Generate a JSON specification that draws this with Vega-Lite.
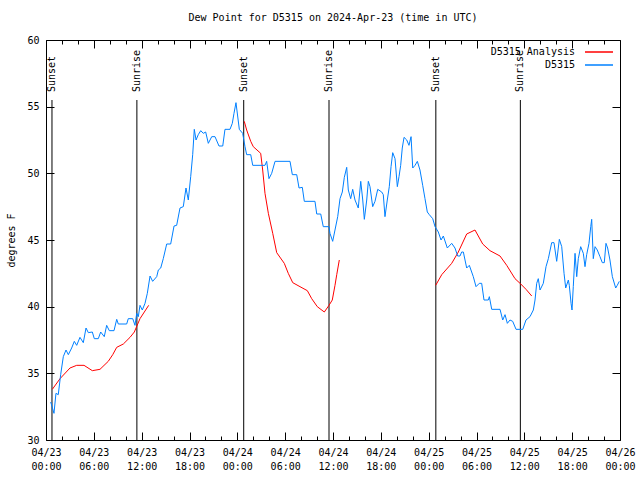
{
  "$schema": "https://vega.github.io/schema/vega-lite/v6.json",
  "autosize": "none",
  "width": 574,
  "height": 400,
  "padding": {"left": 46, "top": 40, "right": 20, "bottom": 40},
  "background": "white",
  "config": {
    "font": "DejaVu Sans Mono",
    "view": {"stroke": "black", "strokeWidth": 1},
    "axis": {"labelFont": "DejaVu Sans Mono", "titleFont": "DejaVu Sans Mono", "labelFontSize": 10, "titleFontSize": 10, "titleFontWeight": "normal", "labelColor": "black", "titleColor": "black", "domainColor": "black", "tickColor": "black", "grid": false, "labelFlush": false, "labelOverlap": false, "labelBound": false},
    "legend": {"labelFont": "DejaVu Sans Mono", "labelFontSize": 10, "labelColor": "black"}
  },
  "title": {"text": "Dew Point for D5315 on 2024-Apr-23 (time in UTC)", "font": "DejaVu Sans Mono", "fontSize": 10, "fontWeight": "normal", "color": "black", "offset": 12, "anchor": "middle"},
  "datasets": {
    "obs": [
      {"hour": 0.59, "dp": 32.85}, {"hour": 1.0, "dp": 32.0}, {"hour": 1.25, "dp": 33.5}, {"hour": 1.54, "dp": 33.4},
      {"hour": 1.84, "dp": 34.9}, {"hour": 2.17, "dp": 36.25}, {"hour": 2.51, "dp": 36.75}, {"hour": 2.8, "dp": 36.4},
      {"hour": 3.22, "dp": 36.9}, {"hour": 3.55, "dp": 37.4}, {"hour": 3.85, "dp": 37.1}, {"hour": 4.26, "dp": 37.7},
      {"hour": 4.68, "dp": 37.3}, {"hour": 5.02, "dp": 38.4}, {"hour": 5.31, "dp": 38.05}, {"hour": 5.81, "dp": 38.1},
      {"hour": 6.06, "dp": 37.6}, {"hour": 6.56, "dp": 37.6}, {"hour": 6.86, "dp": 38.1}, {"hour": 7.31, "dp": 37.75},
      {"hour": 7.61, "dp": 38.6}, {"hour": 7.94, "dp": 38.2}, {"hour": 8.53, "dp": 38.2}, {"hour": 8.87, "dp": 39.05},
      {"hour": 9.07, "dp": 38.7}, {"hour": 10.12, "dp": 38.7}, {"hour": 10.32, "dp": 39.1}, {"hour": 10.88, "dp": 39.1},
      {"hour": 11.16, "dp": 38.6}, {"hour": 11.38, "dp": 39.5}, {"hour": 11.58, "dp": 39.25}, {"hour": 11.79, "dp": 40.1},
      {"hour": 12.08, "dp": 39.75}, {"hour": 12.42, "dp": 40.25}, {"hour": 12.71, "dp": 41.0}, {"hour": 13.05, "dp": 42.3},
      {"hour": 13.38, "dp": 41.9}, {"hour": 13.89, "dp": 42.25}, {"hour": 14.09, "dp": 42.75}, {"hour": 14.39, "dp": 42.9},
      {"hour": 14.71, "dp": 43.6}, {"hour": 15.14, "dp": 44.7}, {"hour": 15.64, "dp": 44.7}, {"hour": 16.06, "dp": 46.05},
      {"hour": 16.39, "dp": 46.1}, {"hour": 16.81, "dp": 47.4}, {"hour": 17.22, "dp": 47.5}, {"hour": 17.56, "dp": 48.9},
      {"hour": 17.85, "dp": 48.0}, {"hour": 18.15, "dp": 49.75}, {"hour": 18.4, "dp": 51.4}, {"hour": 18.6, "dp": 53.3},
      {"hour": 18.82, "dp": 52.5}, {"hour": 19.1, "dp": 52.9}, {"hour": 19.41, "dp": 53.2}, {"hour": 19.73, "dp": 53.0},
      {"hour": 20.03, "dp": 53.1}, {"hour": 20.36, "dp": 52.25}, {"hour": 20.79, "dp": 52.75}, {"hour": 21.2, "dp": 52.75},
      {"hour": 21.7, "dp": 52.05}, {"hour": 22.17, "dp": 52.05}, {"hour": 22.45, "dp": 53.3}, {"hour": 23.08, "dp": 53.3},
      {"hour": 23.37, "dp": 53.75}, {"hour": 23.58, "dp": 54.5}, {"hour": 23.83, "dp": 55.3}, {"hour": 24.25, "dp": 53.3},
      {"hour": 24.67, "dp": 53.0}, {"hour": 24.96, "dp": 52.0}, {"hour": 25.17, "dp": 51.4}, {"hour": 25.68, "dp": 51.4},
      {"hour": 25.93, "dp": 50.6}, {"hour": 27.47, "dp": 50.6}, {"hour": 27.68, "dp": 50.9}, {"hour": 27.97, "dp": 49.6},
      {"hour": 28.31, "dp": 50.0}, {"hour": 28.73, "dp": 50.9}, {"hour": 30.61, "dp": 50.9}, {"hour": 30.9, "dp": 49.9},
      {"hour": 31.45, "dp": 49.9}, {"hour": 31.74, "dp": 48.9}, {"hour": 32.15, "dp": 48.95}, {"hour": 32.4, "dp": 47.9},
      {"hour": 33.74, "dp": 47.9}, {"hour": 33.96, "dp": 46.95}, {"hour": 34.46, "dp": 46.95}, {"hour": 34.78, "dp": 46.0},
      {"hour": 35.5, "dp": 46.0}, {"hour": 35.62, "dp": 45.5}, {"hour": 35.96, "dp": 44.9}, {"hour": 36.25, "dp": 45.75},
      {"hour": 36.59, "dp": 46.75}, {"hour": 36.88, "dp": 48.1}, {"hour": 37.17, "dp": 48.6}, {"hour": 37.42, "dp": 49.7},
      {"hour": 37.72, "dp": 50.45}, {"hour": 37.92, "dp": 48.75}, {"hour": 38.22, "dp": 48.1}, {"hour": 38.47, "dp": 48.8},
      {"hour": 38.76, "dp": 48.0}, {"hour": 39.17, "dp": 47.4}, {"hour": 39.48, "dp": 49.4}, {"hour": 39.73, "dp": 48.0},
      {"hour": 39.93, "dp": 46.55}, {"hour": 40.23, "dp": 48.0}, {"hour": 40.43, "dp": 49.4}, {"hour": 40.64, "dp": 49.0},
      {"hour": 40.98, "dp": 47.5}, {"hour": 41.27, "dp": 47.9}, {"hour": 41.61, "dp": 48.8}, {"hour": 42.11, "dp": 48.6},
      {"hour": 42.31, "dp": 48.4}, {"hour": 42.52, "dp": 46.75}, {"hour": 42.81, "dp": 48.0}, {"hour": 43.06, "dp": 49.0},
      {"hour": 43.28, "dp": 50.5}, {"hour": 43.49, "dp": 51.55}, {"hour": 43.78, "dp": 51.1}, {"hour": 44.07, "dp": 49.0},
      {"hour": 44.28, "dp": 49.75}, {"hour": 44.49, "dp": 50.6}, {"hour": 44.69, "dp": 51.9}, {"hour": 44.91, "dp": 52.7},
      {"hour": 45.25, "dp": 52.5}, {"hour": 45.53, "dp": 52.1}, {"hour": 45.79, "dp": 52.75}, {"hour": 46.0, "dp": 50.4},
      {"hour": 46.29, "dp": 50.6}, {"hour": 46.58, "dp": 50.9}, {"hour": 46.91, "dp": 50.25}, {"hour": 47.25, "dp": 49.1},
      {"hour": 47.54, "dp": 48.1}, {"hour": 47.83, "dp": 47.1}, {"hour": 48.08, "dp": 46.9}, {"hour": 48.51, "dp": 46.6},
      {"hour": 48.8, "dp": 46.0}, {"hour": 49.21, "dp": 45.6}, {"hour": 49.55, "dp": 45.0}, {"hour": 49.84, "dp": 45.3},
      {"hour": 50.34, "dp": 44.4}, {"hour": 50.89, "dp": 44.75}, {"hour": 51.3, "dp": 44.4}, {"hour": 51.64, "dp": 43.8},
      {"hour": 51.93, "dp": 43.8}, {"hour": 52.14, "dp": 44.1}, {"hour": 52.35, "dp": 44.1}, {"hour": 52.77, "dp": 42.9},
      {"hour": 53.1, "dp": 43.1}, {"hour": 53.6, "dp": 42.25}, {"hour": 53.94, "dp": 41.5}, {"hour": 54.35, "dp": 41.75},
      {"hour": 54.65, "dp": 41.75}, {"hour": 54.94, "dp": 40.5}, {"hour": 55.48, "dp": 40.5}, {"hour": 55.61, "dp": 40.75},
      {"hour": 55.91, "dp": 39.8}, {"hour": 56.95, "dp": 39.8}, {"hour": 57.29, "dp": 39.0}, {"hour": 57.58, "dp": 39.4},
      {"hour": 57.87, "dp": 38.75}, {"hour": 58.2, "dp": 39.0}, {"hour": 58.54, "dp": 38.9}, {"hour": 58.96, "dp": 38.3},
      {"hour": 59.8, "dp": 38.3}, {"hour": 60.21, "dp": 39.0}, {"hour": 60.71, "dp": 39.25}, {"hour": 61.13, "dp": 39.75},
      {"hour": 61.34, "dp": 40.5}, {"hour": 61.55, "dp": 41.75}, {"hour": 61.75, "dp": 42.1}, {"hour": 61.97, "dp": 41.25},
      {"hour": 62.38, "dp": 41.75}, {"hour": 62.72, "dp": 43.0}, {"hour": 63.01, "dp": 43.6}, {"hour": 63.43, "dp": 44.8},
      {"hour": 63.72, "dp": 44.8}, {"hour": 64.06, "dp": 43.4}, {"hour": 64.39, "dp": 45.05}, {"hour": 64.69, "dp": 44.5},
      {"hour": 64.98, "dp": 42.5}, {"hour": 65.19, "dp": 41.4}, {"hour": 65.52, "dp": 42.0}, {"hour": 65.64, "dp": 41.6},
      {"hour": 65.86, "dp": 40.25}, {"hour": 65.98, "dp": 39.75}, {"hour": 66.14, "dp": 41.5}, {"hour": 66.36, "dp": 44.0},
      {"hour": 66.57, "dp": 42.25}, {"hour": 66.77, "dp": 43.6}, {"hour": 67.07, "dp": 44.5}, {"hour": 67.4, "dp": 44.0},
      {"hour": 67.61, "dp": 43.0}, {"hour": 67.82, "dp": 43.9}, {"hour": 68.11, "dp": 44.75}, {"hour": 68.33, "dp": 46.0},
      {"hour": 68.45, "dp": 46.55}, {"hour": 68.65, "dp": 43.6}, {"hour": 68.87, "dp": 44.5}, {"hour": 69.15, "dp": 44.25},
      {"hour": 69.49, "dp": 43.75}, {"hour": 69.78, "dp": 43.3}, {"hour": 70.03, "dp": 43.3}, {"hour": 70.24, "dp": 44.75},
      {"hour": 70.45, "dp": 44.4}, {"hour": 70.74, "dp": 43.5}, {"hour": 71.04, "dp": 42.25}, {"hour": 71.46, "dp": 41.4},
      {"hour": 71.66, "dp": 41.6}, {"hour": 71.91, "dp": 41.9}
    ],
    "ana": [
      {"hour": 0.79, "dp": 33.8, "seg": 1}, {"hour": 1.76, "dp": 34.6, "seg": 1}, {"hour": 3.01, "dp": 35.4, "seg": 1},
      {"hour": 3.85, "dp": 35.6, "seg": 1}, {"hour": 4.77, "dp": 35.6, "seg": 1}, {"hour": 5.81, "dp": 35.2, "seg": 1},
      {"hour": 6.77, "dp": 35.3, "seg": 1}, {"hour": 7.81, "dp": 35.9, "seg": 1}, {"hour": 8.37, "dp": 36.4, "seg": 1},
      {"hour": 8.87, "dp": 36.95, "seg": 1}, {"hour": 9.7, "dp": 37.2, "seg": 1}, {"hour": 10.54, "dp": 37.7, "seg": 1},
      {"hour": 11.08, "dp": 38.1, "seg": 1}, {"hour": 11.79, "dp": 39.1, "seg": 1}, {"hour": 12.88, "dp": 40.1, "seg": 1},
      {"hour": 24.87, "dp": 53.9, "seg": 2}, {"hour": 25.17, "dp": 53.25, "seg": 2}, {"hour": 25.68, "dp": 52.4, "seg": 2},
      {"hour": 26.0, "dp": 52.0, "seg": 2}, {"hour": 26.93, "dp": 51.5, "seg": 2}, {"hour": 27.18, "dp": 50.25, "seg": 2},
      {"hour": 27.47, "dp": 48.5, "seg": 2}, {"hour": 27.89, "dp": 47.0, "seg": 2}, {"hour": 28.44, "dp": 45.5, "seg": 2},
      {"hour": 28.94, "dp": 44.05, "seg": 2}, {"hour": 29.89, "dp": 43.25, "seg": 2}, {"hour": 30.39, "dp": 42.5, "seg": 2},
      {"hour": 30.95, "dp": 41.8, "seg": 2}, {"hour": 31.86, "dp": 41.5, "seg": 2}, {"hour": 32.78, "dp": 41.2, "seg": 2},
      {"hour": 33.33, "dp": 40.6, "seg": 2}, {"hour": 34.03, "dp": 40.0, "seg": 2}, {"hour": 34.91, "dp": 39.6, "seg": 2},
      {"hour": 35.5, "dp": 40.1, "seg": 2}, {"hour": 35.91, "dp": 40.5, "seg": 2}, {"hour": 36.25, "dp": 41.6, "seg": 2},
      {"hour": 36.47, "dp": 42.4, "seg": 2}, {"hour": 36.79, "dp": 43.5, "seg": 2},
      {"hour": 48.88, "dp": 41.6, "seg": 3}, {"hour": 49.64, "dp": 42.4, "seg": 3}, {"hour": 50.89, "dp": 43.25, "seg": 3},
      {"hour": 51.72, "dp": 44.1, "seg": 3}, {"hour": 52.77, "dp": 45.45, "seg": 3}, {"hour": 53.81, "dp": 45.75, "seg": 3},
      {"hour": 54.78, "dp": 44.7, "seg": 3}, {"hour": 55.69, "dp": 44.2, "seg": 3}, {"hour": 56.95, "dp": 43.8, "seg": 3},
      {"hour": 57.79, "dp": 43.1, "seg": 3}, {"hour": 58.83, "dp": 42.1, "seg": 3}, {"hour": 59.55, "dp": 41.7, "seg": 3},
      {"hour": 60.21, "dp": 41.3, "seg": 3}, {"hour": 60.93, "dp": 40.8, "seg": 3}
    ],
    "sun": [
      {"hour": 0.75, "label": "Sunset"}, {"hour": 11.4, "label": "Sunrise"},
      {"hour": 24.8, "label": "Sunset"}, {"hour": 35.5, "label": "Sunrise"},
      {"hour": 48.9, "label": "Sunset"}, {"hour": 59.5, "label": "Sunrise"}
    ]
  },
  "resolve": {"axis": {"x": "independent", "y": "independent"}},
  "layer": [
    {
      "data": {"name": "sun"},
      "mark": {"type": "rule", "color": "black", "strokeWidth": 1},
      "encoding": {
        "x": {"field": "hour", "type": "quantitative", "scale": {"domain": [0, 72], "nice": false, "zero": false},
              "axis": {"orient": "top", "values": [0, 6, 12, 18, 24, 30, 36, 42, 48, 54, 60, 66, 72], "labels": false, "tickSize": -8, "domain": false, "title": null}},
        "y": {"datum": 55.5, "type": "quantitative", "scale": {"domain": [30, 60], "nice": false, "zero": false},
              "axis": {"orient": "right", "values": [30, 35, 40, 45, 50, 55, 60], "labels": false, "tickSize": -8, "domain": false, "title": null}},
        "y2": {"datum": 30}
      }
    },
    {
      "data": {"name": "sun"},
      "mark": {"type": "text", "angle": -90, "align": "left", "baseline": "middle", "fontSize": 10, "font": "DejaVu Sans Mono", "color": "black"},
      "encoding": {
        "x": {"field": "hour", "type": "quantitative",
              "axis": {"orient": "top", "values": [2, 4, 8, 10, 14, 16, 20, 22, 26, 28, 32, 34, 38, 40, 44, 46, 50, 52, 56, 58, 62, 64, 68, 70], "labels": false, "tickSize": -4, "domain": false, "title": null}},
        "y": {"datum": 56.1, "type": "quantitative", "axis": null},
        "text": {"field": "label"}
      }
    },
    {
      "data": {"name": "ana"},
      "mark": {"type": "line", "strokeWidth": 1, "interpolate": "linear"},
      "encoding": {
        "x": {"field": "hour", "type": "quantitative",
              "axis": {"orient": "bottom", "values": [2, 4, 8, 10, 14, 16, 20, 22, 26, 28, 32, 34, 38, 40, 44, 46, 50, 52, 56, 58, 62, 64, 68, 70], "labels": false, "tickSize": -4, "domain": false, "title": null}},
        "y": {"field": "dp", "type": "quantitative", "axis": null},
        "detail": {"field": "seg"},
        "order": {"field": "hour"},
        "color": {"datum": "D5315 Analysis", "type": "nominal",
                  "scale": {"domain": ["D5315 Analysis", "D5315"], "range": ["#ff0000", "#0080ff"]},
                  "legend": {"title": null, "orient": "top-right", "offset": 4, "symbolType": "M-2,0H2", "symbolSize": 196, "symbolStrokeWidth": 1.5, "rowPadding": 0, "labelFontSize": 10, "labelAlign": "right", "labelOffset": -32, "padding": 0}}
      }
    },
    {
      "data": {"name": "obs"},
      "mark": {"type": "line", "strokeWidth": 1, "interpolate": "linear"},
      "encoding": {
        "x": {"field": "hour", "type": "quantitative",
              "axis": {"orient": "bottom", "values": [0, 6, 12, 18, 24, 30, 36, 42, 48, 54, 60, 66, 72], "tickSize": -8, "labelPadding": 15, "labelLineHeight": 14, "labelBaseline": "top",
                       "labelExpr": "['04/' + (23 + floor(datum.value / 24)), (datum.value % 24 < 10 ? '0' : '') + (datum.value % 24) + ':00']", "domain": false, "title": null}},
        "y": {"field": "dp", "type": "quantitative",
              "axis": {"orient": "left", "values": [30, 35, 40, 45, 50, 55, 60], "tickSize": -8, "labelPadding": 15, "domain": false, "title": "degrees F", "titlePadding": 10}},
        "order": {"field": "hour"},
        "color": {"datum": "D5315", "type": "nominal"}
      }
    }
  ]
}
